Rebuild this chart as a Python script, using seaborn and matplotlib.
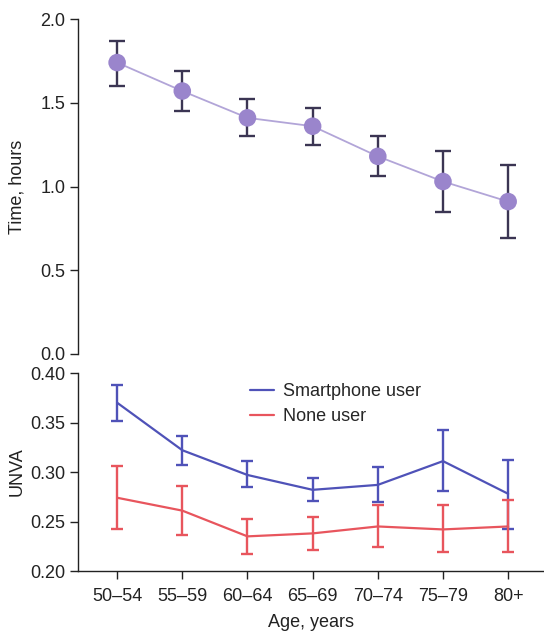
import matplotlib
matplotlib.use("Agg")
import matplotlib.pyplot as plt
import seaborn as sns
import numpy as np
import pandas as pd

age_groups = ["50\u201354", "55\u201359", "60\u201364", "65\u201369", "70\u201374", "75\u201379", "80+"]

time_mean = [1.74, 1.57, 1.41, 1.36, 1.18, 1.03, 0.91]
time_upper = [1.87, 1.69, 1.52, 1.47, 1.30, 1.21, 1.13]
time_lower = [1.60, 1.45, 1.30, 1.25, 1.06, 0.85, 0.69]

smart_mean = [0.370, 0.322, 0.297, 0.282, 0.287, 0.311, 0.278]
smart_upper = [0.388, 0.336, 0.311, 0.294, 0.305, 0.342, 0.312]
smart_lower = [0.352, 0.307, 0.285, 0.271, 0.270, 0.281, 0.242]

none_mean = [0.274, 0.261, 0.235, 0.238, 0.245, 0.242, 0.245]
none_upper = [0.306, 0.286, 0.253, 0.255, 0.267, 0.267, 0.272]
none_lower = [0.242, 0.236, 0.217, 0.221, 0.224, 0.219, 0.219]

sns.set_theme(style="ticks")
plt.rcParams['font.family'] = ['Liberation Sans', 'DejaVu Sans']

fig = plt.figure(figsize=(5.44, 6.32), dpi=100)
ax1 = fig.add_axes([0.1434, 0.4399, 0.8566, 0.530])
ax2 = fig.add_axes([0.1434, 0.0965, 0.8566, 0.3133])

x = np.arange(len(age_groups))
df_time = pd.DataFrame({"x": x, "time": time_mean})

purple_line = "#b2a5d8"
purple_mark = "#9a85cc"
err_dark = "#3b3553"

sns.lineplot(data=df_time, x="x", y="time", ax=ax1, color=purple_line, lw=1.3, zorder=2)
tm = np.array(time_mean)
ax1.errorbar(x, tm, yerr=[tm - np.array(time_lower), np.array(time_upper) - tm],
             fmt="none", ecolor=err_dark, elinewidth=1.7, capsize=6, capthick=1.7, zorder=3)
sns.scatterplot(data=df_time, x="x", y="time", ax=ax1, color=purple_mark, s=160,
                edgecolor="none", zorder=4)

ax1.set_xlim(-0.6, 6.55)
ax1.set_ylim(0, 2.0)
ax1.set_yticks([0.0, 0.5, 1.0, 1.5, 2.0])
ax1.set_yticklabels(["0.0", "0.5", "1.0", "1.5", "2.0"])
ax1.set_xticks([])
ax1.set_xlabel("")
ax1.set_ylabel("Time, hours", fontsize=13, color="#222222")
for s in ["top", "right", "bottom"]:
    ax1.spines[s].set_visible(False)

df_u = pd.DataFrame({
    "x": np.concatenate([x, x]),
    "unva": smart_mean + none_mean,
    "group": ["Smartphone user"] * 7 + ["None user"] * 7,
})
blue = "#4f52b8"
red = "#e8555d"
sns.lineplot(data=df_u, x="x", y="unva", hue="group", ax=ax2,
             palette={"Smartphone user": blue, "None user": red}, lw=1.6)
sm = np.array(smart_mean)
nm = np.array(none_mean)
ax2.errorbar(x, sm, yerr=[sm - np.array(smart_lower), np.array(smart_upper) - sm],
             fmt="none", ecolor=blue, elinewidth=1.7, capsize=4.5, capthick=1.7)
ax2.errorbar(x, nm, yerr=[nm - np.array(none_lower), np.array(none_upper) - nm],
             fmt="none", ecolor=red, elinewidth=1.7, capsize=4.5, capthick=1.7)

ax2.set_xlim(-0.6, 6.55)
ax2.set_ylim(0.2, 0.4)
ax2.set_yticks([0.20, 0.25, 0.30, 0.35, 0.40])
ax2.set_yticklabels(["0.20", "0.25", "0.30", "0.35", "0.40"])
ax2.set_xticks(x)
ax2.set_xticklabels(age_groups)
ax2.set_xlabel("Age, years", fontsize=13, color="#222222", labelpad=7)
ax2.set_ylabel("UNVA", fontsize=13, color="#222222")
for s in ["top", "right"]:
    ax2.spines[s].set_visible(False)

leg = ax2.legend(loc="upper left", bbox_to_anchor=(0.335, 1.03), frameon=False,
                 fontsize=13, handlelength=1.3, handletextpad=0.5, labelspacing=0.45)

for ax in (ax1, ax2):
    ax.tick_params(axis="both", labelsize=13, length=6, width=1.0, colors="#222222", pad=3)
    for s in ["left", "bottom"]:
        ax.spines[s].set_linewidth(1.0)
        ax.spines[s].set_color("#222222")
    ax.yaxis.set_label_coords(-0.112, 0.5)
ax2.tick_params(axis="x", pad=6)

fig.savefig("out.png", dpi=100)
